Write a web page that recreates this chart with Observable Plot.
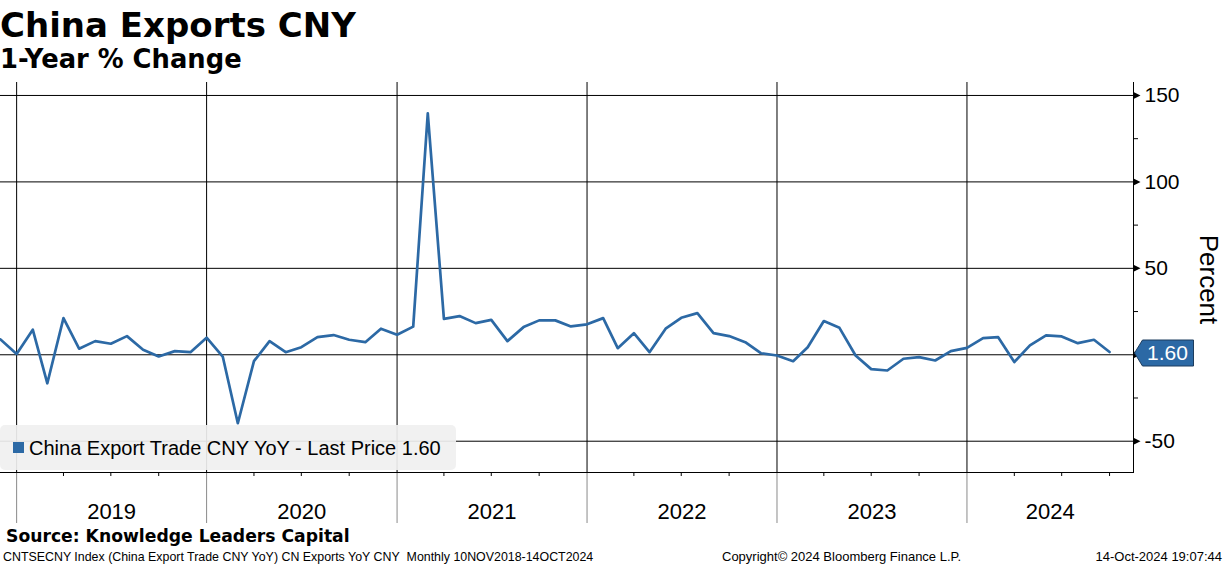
<!DOCTYPE html>
<html><head><meta charset="utf-8">
<script src="https://cdn.jsdelivr.net/npm/d3@7"></script>
<script src="https://cdn.jsdelivr.net/npm/@observablehq/plot@0.6"></script>
<style>
html,body{margin:0;padding:0;background:#fff;}
#wrap{position:relative;width:1224px;height:566px;overflow:hidden;font-family:"Liberation Sans",Arial,sans-serif;color:#000;}
.abs{position:absolute;white-space:nowrap;}
#title{left:0;top:8px;font-family:"DejaVu Sans";font-weight:bold;font-size:34px;line-height:34px;}
#subtitle{left:0;top:46px;font-family:"DejaVu Sans";font-weight:bold;font-size:25.8px;line-height:26px;}
#chart{left:0;top:80px;}
#legend{left:0;top:425px;width:456px;height:45px;background:rgba(240,240,240,0.92);border-radius:5px;}
#legend .sw{position:absolute;left:13px;top:17px;width:11px;height:11px;background:#2c69a5;}
#legend .tx{position:absolute;left:29px;top:11px;font-size:20px;line-height:24px;}
#source{left:6px;top:526px;font-family:"DejaVu Sans";font-weight:bold;font-size:17.2px;line-height:20px;}
.foot{top:549px;font-size:12.4px;line-height:16px;}
.foot2{top:549px;font-size:13px;line-height:16px;}
</style></head><body>
<div id="wrap">
  <div id="title" class="abs">China Exports CNY</div>
  <div id="subtitle" class="abs">1-Year % Change</div>
  <div id="chart" class="abs"></div>
  <div id="legend" class="abs"><div class="sw"></div><div class="tx">China Export Trade CNY YoY - Last Price 1.60</div></div>
  <div id="source" class="abs">Source: Knowledge Leaders Capital</div>
  <div class="abs foot" style="left:3px">CNTSECNY Index (China Export Trade CNY YoY) CN Exports YoY CNY&nbsp; Monthly 10NOV2018-14OCT2024</div>
  <div class="abs foot2" style="left:722px">Copyright© 2024 Bloomberg Finance L.P.</div>
  <div class="abs foot2" style="right:2px">14-Oct-2024 19:07:44</div>
</div>
<script>
// Monthly China export YoY % (CNY), Nov 2018 .. Sep 2024
const values2018 = [8.9, 0.5];
const values2019 = [14.5, -16.5, 21.2, 3.5, 7.9, 6.4, 10.8, 2.9, -1.0, 2.1, 1.5, 9.9];
const values2020 = [-1.0, -39.6, -3.7, 7.9, 1.5, 4.4, 10.2, 11.4, 8.7, 7.3, 15.1, 11.6];
const values2021 = [16.3, 139.6, 20.8, 22.4, 18.3, 20.2, 7.9, 16.0, 19.9, 19.9, 16.4, 17.6];
const values2022 = [21.2, 3.8, 12.5, 1.5, 15.1, 21.4, 24.1, 12.5, 10.8, 7.3, 0.9, -0.4];
const values2023 = [-3.7, 4.4, 19.5, 15.6, -0.4, -8.3, -9.1, -2.3, -1.4, -3.3, 2.1, 4.0];
const values2024 = [9.6, 10.2, -4.2, 5.4, 11.2, 10.6, 6.7, 8.7, 1.6];
const yearLabels = ["2019", "2020", "2021", "2022", "2023", "2024"];
const yMajor = [-50, 0, 50, 100, 150];
const yLabelled = [-50, 50, 100, 150]; // the 0 label sits behind the last-price tag
const yMinor = [-25, 25, 75, 125];
const lastLabel = "1.60";

const blue = "#2c69a5";
const values = [].concat(values2018, values2019, values2020, values2021, values2022, values2023, values2024);
const firstMonth = new Date(Date.UTC(2018, 10, 1));
// each monthly value is plotted at the end of its month
const data = values.map((v, i) => ({date: d3.utcMonth.offset(firstMonth, i + 1), value: v}));
const last = data[data.length - 1];
const x0 = new Date(Date.UTC(2018, 11, 1)), x1 = new Date(Date.UTC(2024, 10, 16));
const yearStarts = yearLabels.map(y => new Date(Date.UTC(+y, 0, 1)));
const quarterTicks = d3.utcMonth.every(3).range(x0, x1).filter(d => d.getUTCMonth() !== 0);
const yearMid = yearLabels.map(y => {
  const lo = Math.max(Date.UTC(+y, 0, 1), +x0), hi = Math.min(Date.UTC(+y + 1, 0, 1), +x1);
  return {date: new Date((lo + hi) / 2), label: y};
});

const tri = {draw(ctx) { ctx.moveTo(0, -3.5); ctx.lineTo(7, 0); ctx.lineTo(0, 3.5); ctx.closePath(); }};
const tag = {draw(ctx) { ctx.moveTo(1, 1); ctx.lineTo(9, -12); ctx.lineTo(60, -12); ctx.lineTo(60, 14); ctx.lineTo(9, 14); ctx.closePath(); }};

const chart = Plot.plot({
  width: 1224, height: 450,
  marginTop: 2, marginBottom: 58, marginLeft: 0, marginRight: 91,
  style: {fontFamily: "Liberation Sans, Arial, sans-serif", color: "black", background: "transparent", overflow: "visible"},
  x: {type: "utc", domain: [x0, x1]},
  y: {domain: [-68.1, 157.5]},
  marks: [
    Plot.ruleY(yMajor, {stroke: "black", strokeWidth: 1}),
    Plot.ruleX(yearStarts, {stroke: "black", strokeWidth: 1}),
    Plot.axisX(yearStarts, {tickSize: 51, stroke: "#8a8a8a", tickFormat: () => "", label: null}),
    Plot.axisX(quarterTicks, {tickSize: 4, stroke: "black", tickFormat: () => "", label: null}),
    Plot.text(yearMid, {x: "date", text: "label", frameAnchor: "bottom", dy: 39, fontSize: 22, lineAnchor: "middle", textAnchor: "middle"}),
    Plot.frame({anchor: "bottom", stroke: "black"}),
    Plot.frame({anchor: "right", stroke: "black"}),
    Plot.axisY(yLabelled, {anchor: "right", tickSize: 0, tickPadding: 11, fontSize: 21, label: null, tickFormat: d => String(d)}),
    Plot.axisY(yMinor, {anchor: "right", tickSize: 4, tickFormat: () => "", label: null}),
    Plot.dot(yMajor, {y: d => d, frameAnchor: "right", symbol: tri, fill: "black", stroke: null}),
    Plot.lineY(data, {x: "date", y: "value", stroke: blue, strokeWidth: 2.7}),
    Plot.dot([last], {y: "value", frameAnchor: "right", symbol: tag, fill: blue, stroke: "#1d3d5e", strokeWidth: 1}),
    Plot.text([last], {y: "value", frameAnchor: "right", dx: 34, dy: 1, text: () => lastLabel, fill: "white", fontSize: 21, textAnchor: "middle"}),
    Plot.text(["Percent"], {frameAnchor: "right", text: d => d, rotate: 90, dx: 75, dy: 2, fontSize: 26, textAnchor: "middle"})
  ]
});
document.getElementById("chart").appendChild(chart);
</script>
</body></html>
